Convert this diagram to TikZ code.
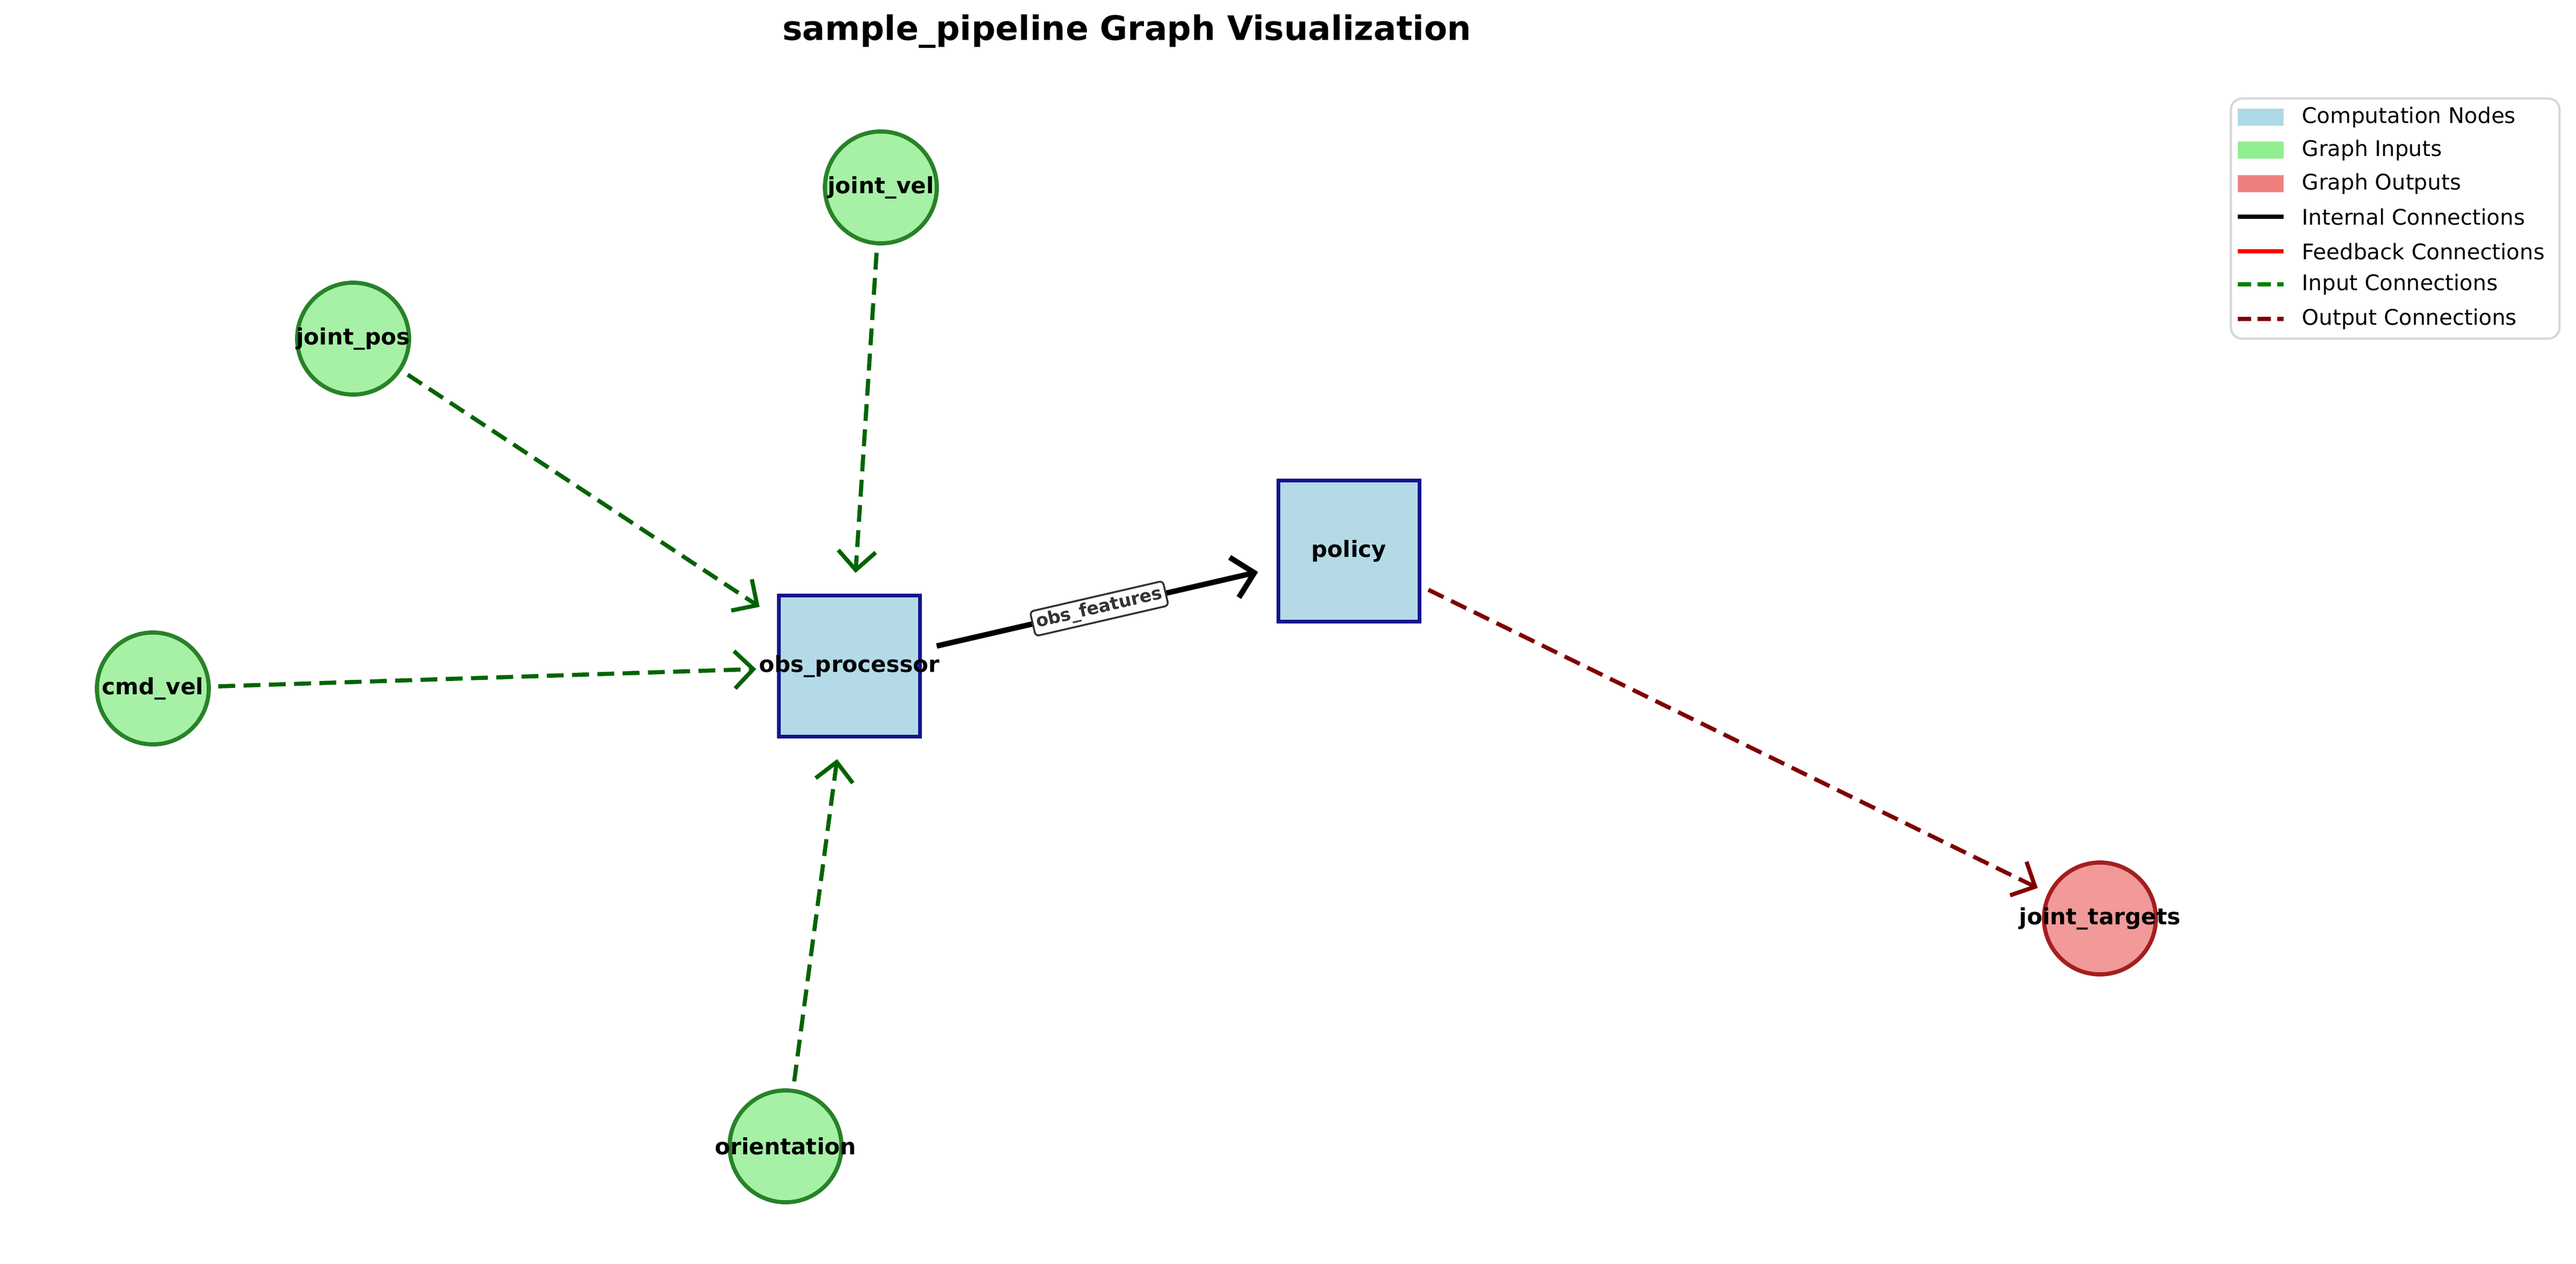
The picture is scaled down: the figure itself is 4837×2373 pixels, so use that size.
\documentclass[tikz,border=0pt]{standalone}
\usepackage{fontspec}
\setmainfont{DejaVu Sans}
\usetikzlibrary{arrows.meta}
\definecolor{boxfill}{RGB}{180,218,231}
\definecolor{boxdraw}{RGB}{20,20,140}
\definecolor{infill}{RGB}{166,241,166}
\definecolor{indraw}{RGB}{40,130,40}
\definecolor{outfill}{RGB}{242,153,153}
\definecolor{outdraw}{RGB}{165,30,30}
\definecolor{inedge}{RGB}{0,100,0}
\definecolor{outedge}{RGB}{128,0,0}
\definecolor{lblgray}{RGB}{51,51,51}
\definecolor{legblue}{RGB}{173,216,230}
\definecolor{leggreen}{RGB}{144,238,144}
\definecolor{legred}{RGB}{240,128,128}
\definecolor{legframe}{RGB}{215,215,215}
\definecolor{leginput}{RGB}{0,128,0}
\tikzset{
 comp/.style={draw=boxdraw,fill=boxfill,line width=2.2pt,minimum size=2.65cm,inner sep=0pt,font=\bfseries\fontsize{12}{14}\selectfont},
 gin/.style={circle,draw=indraw,fill=infill,line width=2.2pt,minimum size=2.1cm,inner sep=0pt,font=\bfseries\fontsize{12}{14}\selectfont},
 gout/.style={circle,draw=outdraw,fill=outfill,line width=2.2pt,minimum size=2.1cm,inner sep=0pt,font=\bfseries\fontsize{12}{14}\selectfont},
 tip/.style={-{Straight Barb[length=10pt,width=20pt,line width=2.2pt]}},
 inconn/.style={tip,draw=inedge,line width=2.2pt,dash pattern=on 9pt off 4.5pt,shorten <=4pt,shorten >=11pt},
 outconn/.style={tip,draw=outedge,line width=2.2pt,dash pattern=on 9pt off 4.5pt,shorten <=4pt,shorten >=6pt},
 intconn/.style={-{Straight Barb[length=11pt,width=22pt,line width=2.9pt]},draw=black,line width=2.9pt,shorten <=8pt,shorten >=10pt},
 elabel/.style={draw=lblgray,fill=white,rounded corners=2pt,line width=1pt,text=lblgray,font=\bfseries\fontsize{9.5}{11}\selectfont,inner sep=2pt,sloped},
 legtxt/.style={anchor=west,font=\fontsize{11.5}{13}\selectfont,inner sep=0pt},
 legline/.style={line width=2.2pt},
}
\begin{document}
\begin{tikzpicture}[x=0.01cm,y=-0.01cm]
\useasboundingbox[fill=white] (0,0) rectangle (4837,2373);
\node[font=\bfseries\fontsize{18}{21}\selectfont] (title) at (2116,59) {sample\_pipeline Graph Visualization};

\node[comp] (obs) at (1595,1251) {};
\node[comp] (pol) at (2533,1035) {};
\node[gin] (jv) at (1654,352) {};
\node[gin] (jp) at (663,636) {};
\node[gin] (cv) at (287,1293) {};
\node[gin] (or) at (1475,2153) {};
\node[gout] (jt) at (3943,1725) {};

\draw[inconn] (jv) -- (obs);
\draw[inconn] (jp) -- (obs);
\draw[inconn] (cv) -- (obs);
\draw[inconn] (or) -- (obs);
\draw[intconn] (obs) -- node[elabel] (lbl) {obs\_features} (pol);
\draw[outconn] (pol) -- (jt);

\foreach \n/\t in {obs/obs\_processor,pol/policy,jv/joint\_vel,jp/joint\_pos,cv/cmd\_vel,or/orientation,jt/joint\_targets}
  \node[font=\bfseries\fontsize{12}{14}\selectfont,inner sep=0pt] at (\n.center) {\t};

% legend
\draw[legframe,fill=white,line width=1.2pt,rounded corners=6pt] (4189,185) rectangle (4806,636);
\fill[legblue] (4202,204) rectangle (4288,236);
\fill[leggreen] (4202,266) rectangle (4288,298);
\fill[legred] (4202,329) rectangle (4288,361);
\draw[legline,black] (4202,407) -- (4288,407);
\draw[legline,red] (4202,472) -- (4288,472);
\draw[legline,leginput,dash pattern=on 7pt off 3.5pt] (4202,534) -- (4288,534);
\draw[legline,outedge,dash pattern=on 7pt off 3.5pt] (4202,599) -- (4288,599);
\node[legtxt] (l1) at (4322,220) {Computation Nodes};
\node[legtxt] (l2) at (4322,282) {Graph Inputs};
\node[legtxt] (l3) at (4322,345) {Graph Outputs};
\node[legtxt] (l4) at (4322,407) {Internal Connections};
\node[legtxt] (l5) at (4322,472) {Feedback Connections};
\node[legtxt] (l6) at (4322,534) {Input Connections};
\node[legtxt] (l7) at (4322,599) {Output Connections};
\end{tikzpicture}
\end{document}
